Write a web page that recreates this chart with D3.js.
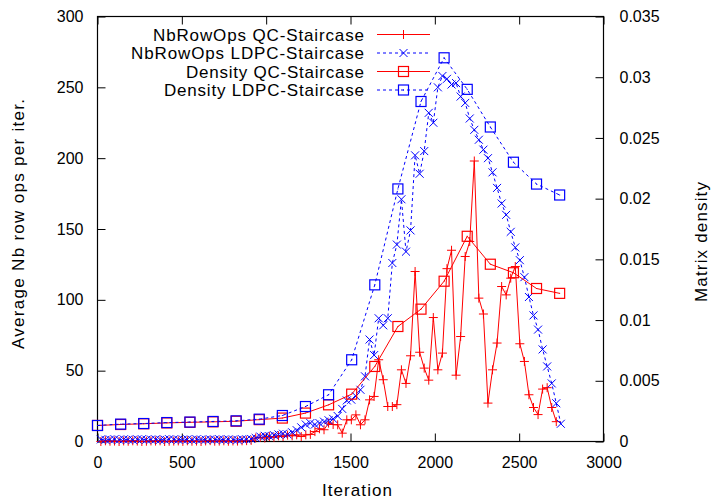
<!DOCTYPE html>
<html>
<head>
<meta charset="utf-8">
<script src="https://cdn.jsdelivr.net/npm/d3@7"></script>
<style>
  html, body { margin: 0; padding: 0; background: #fff; }
  svg { display: block; font-family: "Liberation Sans", Arial, sans-serif; }
</style>
</head>
<body>
<svg id="chart" width="712" height="499"></svg>
<script>
// ---------------- DATA ----------------
const iterations = [20,47,74,101,128,155,182,209,236,263,290,317,344,371,398,425,452,479,506,533,
  560,587,614,641,668,695,722,749,776,803,830,857,884,911,938,965,992,1019,1046,1073,
  1100,1127,1154,1181,1208,1235,1262,1289,1316,1343,1370,1397,1424,1451,1478,1505,1532,1559,1586,1613,
  1640,1667,1694,1721,1748,1775,1802,1829,1856,1883,1910,1937,1964,1991,2018,2045,2072,2099,2126,2153,
  2180,2207,2234,2261,2288,2315,2342,2369,2396,2423,2450,2477,2504,2531,2558,2585,2612,2639,2666,2693,
  2720,2747];

const rowOpsQC = [0,0.5,0.2,0.3,0,0.4,0.2,0.5,0.3,0,0.2,0.4,0.3,0.5,0,0.2,0.3,0.4,0.1,0.5,
  0.2,0.3,0,0.4,0.6,0.2,0.3,0.5,0.2,0.4,0.3,0.5,0.6,0.8,2.5,3,2.5,3.5,3,4,
  3.5,4.5,4,4.7,3.5,4.7,5,7,9,8.3,13,12,11.8,5.9,15.3,15.3,18.8,11.8,15.3,29.4,
  31.8,57.7,43.6,24.7,24.7,26,50.6,41,60.5,120,63,51.8,43.3,87.5,50.6,62.4,122,135,46.8,74.1,
  130.6,141.2,198,101.2,90,27.1,50.6,69.5,109.4,103.5,115.3,123.5,69,56.5,33,24,19,37,38,24,
  14];

const rowOpsLDPC = [1.5,1.2,1.4,1.6,1.3,1.5,1.4,1.2,1.5,1.6,1.3,1.4,1.5,1.2,1.4,1.6,1.5,1.3,1.4,1.5,
  1.2,1.6,1.4,1.3,1.5,1.4,1.6,1.3,1.5,1.4,1.2,1.6,1.5,1.8,2.5,3.5,4,3.8,4.5,5,
  5.5,5,6.5,8,10,12,13,12,13,14,15,16,18,23,29,29.5,32,36.5,46,72,
  61,87,82,87,126,139,171,134,149,202,189,205,232,225,250,258,256,252,253,243.5,
  239,228,220,213,206,200,190,179,168,160,148,137,128,116,102,89,79,65,53,41,
  27,12.5];

const densityIter = [0,137,274,411,548,685,822,959,1096,1233,1370,1507,1644,1781,1918,2055,2192,2329,2466,2603,2740];
const densityQC = [0.00132,0.00140,0.00146,0.00153,0.00158,0.00162,0.00167,0.00180,0.00193,0.00234,0.00302,
  0.0039,0.00618,0.00947,0.0109,0.0132,0.0169,0.0146,0.0139,0.0126,0.0122];
const densityLDPC = [0.00132,0.00143,0.00148,0.00156,0.00160,0.00165,0.00170,0.00184,0.00214,0.00288,0.00385,
  0.00673,0.0129,0.0208,0.0280,0.0316,0.0290,0.0259,0.0230,0.0212,0.0203];

const xTicks = [0,500,1000,1500,2000,2500,3000];
const yTicks = [0,50,100,150,200,250,300];
const y2Ticks = [0,0.005,0.01,0.015,0.02,0.025,0.03,0.035];
const y2TickLabels = ["0","0.005","0.01","0.015","0.02","0.025","0.03","0.035"];
const seriesNames = ["NbRowOps QC-Staircase","NbRowOps LDPC-Staircase","Density QC-Staircase","Density LDPC-Staircase"];

// ---------------- LAYOUT ----------------
const L = 97.5, R = 603.5, T = 16.5, B = 441.5;
const svg = d3.select("#chart");
const x = d3.scaleLinear().domain([0,3000]).range([L,R]);
const y = d3.scaleLinear().domain([0,300]).range([B,T]);
const y2 = d3.scaleLinear().domain([0,0.035]).range([B,T]);
const RED = "#ff0000", BLUE = "#0000ff";
const FS = 16, TFS = 17;

// axes
const gx = svg.append("g").attr("transform",`translate(0,${B})`)
  .call(d3.axisBottom(x).tickValues(xTicks).tickSize(-8).tickPadding(15).tickFormat(d3.format("d")));
const gxt = svg.append("g").attr("transform",`translate(0,${T})`)
  .call(d3.axisTop(x).tickValues(xTicks).tickSize(-8).tickFormat(""));
const gy = svg.append("g").attr("transform",`translate(${L},0)`)
  .call(d3.axisLeft(y).tickValues(yTicks).tickSize(-8).tickPadding(14));
const gy2 = svg.append("g").attr("transform",`translate(${R},0)`)
  .call(d3.axisRight(y2).tickValues(y2Ticks).tickSize(-8).tickPadding(16)
    .tickFormat((d,i)=>y2TickLabels[i]));
[gx,gxt,gy,gy2].forEach(g=>{
  g.select(".domain").remove();
  g.selectAll("line").attr("stroke","#000");
  g.selectAll("text").attr("font-size",FS).attr("font-family","Liberation Sans, Arial, sans-serif").attr("fill","#000");
});

svg.append("rect").attr("x",L).attr("y",T).attr("width",R-L).attr("height",B-T)
  .attr("fill","none").attr("stroke","#000").attr("stroke-width",1.2);

// axis titles
svg.append("text").attr("x",357).attr("y",496).attr("text-anchor","middle")
  .attr("font-size",TFS).attr("textLength",70).attr("lengthAdjust","spacing").text("Iteration");
svg.append("text").attr("transform","translate(24,224) rotate(-90)").attr("text-anchor","middle")
  .attr("font-size",TFS).attr("textLength",250).attr("lengthAdjust","spacing").text("Average Nb row ops per iter.");
svg.append("text").attr("transform","translate(707,242) rotate(-90)").attr("text-anchor","middle")
  .attr("font-size",TFS).attr("textLength",120).attr("lengthAdjust","spacing").text("Matrix density");

// marker shapes
const plusPath = "M-4.5,0H4.5M0,-4.5V4.5";
const crossPath = "M-4,-4L4,4M-4,4L4,-4";
function drawSquare(g, cx, cy, color){
  g.append("rect").attr("x",cx-5).attr("y",cy-5).attr("width",10).attr("height",10)
    .attr("fill","none").attr("stroke",color).attr("stroke-width",1.2);
  g.append("rect").attr("x",cx-0.5).attr("y",cy-0.5).attr("width",1).attr("height",1).attr("fill",color);
}

const line = (xs, ys, ysc) => d3.line().x((d,i)=>x(xs[i])).y((d,i)=>ysc(d));

// series 1: NbRowOps QC (red, solid, +)
const g1 = svg.append("g");
g1.append("path").attr("d", line(iterations, rowOpsQC, y)(rowOpsQC))
  .attr("fill","none").attr("stroke",RED).attr("stroke-width",1);
g1.selectAll("path.m").data(rowOpsQC).enter().append("path").attr("class","m")
  .attr("d",plusPath).attr("transform",(d,i)=>`translate(${x(iterations[i])},${y(d)})`)
  .attr("stroke",RED).attr("stroke-width",1).attr("fill","none");

// series 2: NbRowOps LDPC (blue, dashed, x)
const g2 = svg.append("g");
g2.append("path").attr("d", line(iterations, rowOpsLDPC, y)(rowOpsLDPC))
  .attr("fill","none").attr("stroke",BLUE).attr("stroke-width",1).attr("stroke-dasharray","3,3");
g2.selectAll("path.m").data(rowOpsLDPC).enter().append("path").attr("class","m")
  .attr("d",crossPath).attr("transform",(d,i)=>`translate(${x(iterations[i])},${y(d)})`)
  .attr("stroke",BLUE).attr("stroke-width",1).attr("fill","none");

// series 3: Density QC (red, solid, square)
const g3 = svg.append("g");
g3.append("path").attr("d", line(densityIter, densityQC, y2)(densityQC))
  .attr("fill","none").attr("stroke",RED).attr("stroke-width",1);
densityQC.forEach((d,i)=>drawSquare(g3, x(densityIter[i]), y2(d), RED));

// series 4: Density LDPC (blue, dashed, square)
const g4 = svg.append("g");
g4.append("path").attr("d", line(densityIter, densityLDPC, y2)(densityLDPC))
  .attr("fill","none").attr("stroke",BLUE).attr("stroke-width",1).attr("stroke-dasharray","3,3");
densityLDPC.forEach((d,i)=>drawSquare(g4, x(densityIter[i]), y2(d), BLUE));

// legend
const legY = [34.5, 53, 71.5, 90];
const legLen = [211, 233, 178, 200];
const legColors = [RED, BLUE, RED, BLUE];
const legDash = [null, "3,3", null, "3,3"];
seriesNames.forEach((name,i)=>{
  const gy0 = legY[i];
  svg.append("text").attr("x",364).attr("y",gy0+6).attr("text-anchor","end")
    .attr("font-size",TFS).attr("textLength",legLen[i]).attr("lengthAdjust","spacing").text(name);
  const ln = svg.append("line").attr("x1",377).attr("x2",430).attr("y1",gy0).attr("y2",gy0)
    .attr("stroke",legColors[i]).attr("stroke-width",1);
  if (legDash[i]) ln.attr("stroke-dasharray",legDash[i]);
  if (i===0) svg.append("path").attr("d",plusPath).attr("transform",`translate(403.5,${gy0})`).attr("stroke",RED).attr("fill","none");
  if (i===1) svg.append("path").attr("d",crossPath).attr("transform",`translate(403.5,${gy0})`).attr("stroke",BLUE).attr("fill","none");
  if (i>=2) drawSquare(svg, 403.5, gy0, legColors[i]);
});
</script>
</body>
</html>
